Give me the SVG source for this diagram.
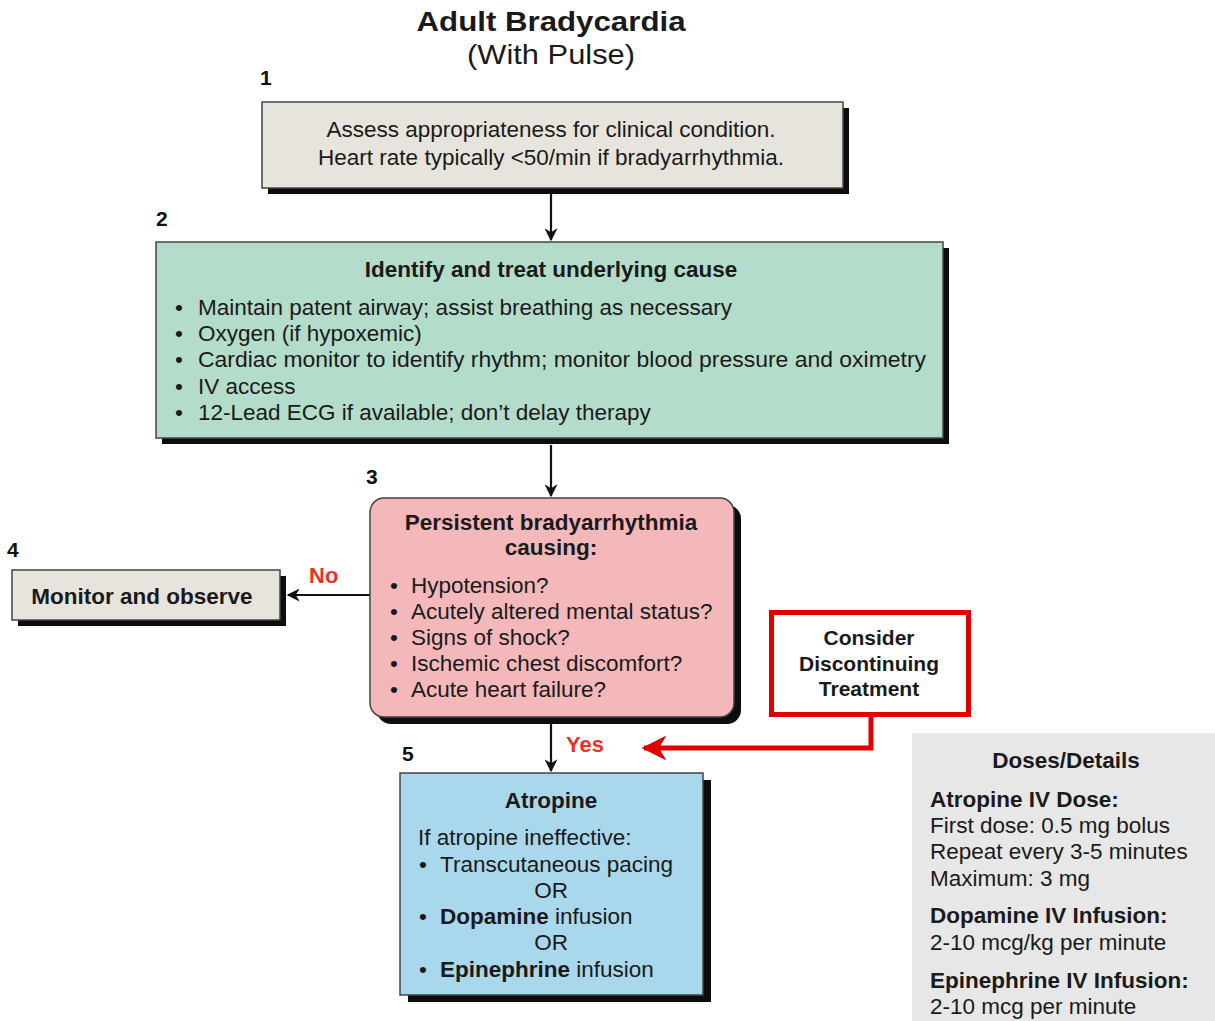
<svg xmlns="http://www.w3.org/2000/svg" width="1215" height="1021" viewBox="0 0 1215 1021">
<defs>
<style>
text{font-family:"Liberation Sans",Arial,sans-serif;fill:#1a1a1a;}
.t{font-size:22.5px;}
.b{font-weight:bold;}
.c{text-anchor:middle;}
.num{font-size:21px;font-weight:bold;fill:#111;}
.sh{fill:#0d0d0d;}
.box{stroke:#444;stroke-width:1.5;}
.conn{stroke:#111;stroke-width:2.2;fill:none;}
.red{fill:#e8322c;font-weight:bold;font-size:22px;}
.rl{stroke:#e00000;stroke-width:5;fill:none;}
</style>
<marker id="ah" viewBox="0 0 10 10" refX="9" refY="5" markerWidth="13" markerHeight="13" orient="auto" markerUnits="userSpaceOnUse">
<path d="M0,0 L10,5 L0,10 L3,5 z" fill="#111"/>
</marker>
<marker id="ahr" viewBox="0 0 10 10" refX="9" refY="5" markerWidth="5" markerHeight="5" orient="auto">
<path d="M0,0 L10,5 L0,10 L3,5 z" fill="#e00000"/>
</marker>
</defs>
<rect width="1215" height="1021" fill="#ffffff"/>
<g id="title">
<text x="551" y="31" class="b c" style="font-size:28px" textLength="269" lengthAdjust="spacingAndGlyphs">Adult Bradycardia</text>
<text x="551" y="64" class="c" style="font-size:28px" textLength="168" lengthAdjust="spacingAndGlyphs">(With Pulse)</text>
</g>
<g id="connectors">
<line x1="551" y1="194" x2="551" y2="240" class="conn" marker-end="url(#ah)"/>
<line x1="551" y1="445" x2="551" y2="496" class="conn" marker-end="url(#ah)"/>
<line x1="378" y1="595" x2="288" y2="595" class="conn" marker-end="url(#ah)"/>
<line x1="551" y1="724" x2="551" y2="771" class="conn" marker-end="url(#ah)"/>
<text x="309" y="583" class="red">No</text>
<text x="566" y="752" class="red">Yes</text>
<polyline points="871,716 871,748 644,748" class="rl" marker-end="url(#ahr)"/>
</g>
<g id="node1">
<text x="260" y="85" class="num">1</text>
<rect x="268" y="108" width="581" height="86" class="sh"/>
<rect x="262" y="102" width="581" height="86" fill="#e6e4dc" class="box"/>
<text x="551" y="137" class="t c">Assess appropriateness for clinical condition.</text>
<text x="551" y="165" class="t c">Heart rate typically &lt;50/min if bradyarrhythmia.</text>
</g>
<g id="node2">
<text x="156" y="226" class="num">2</text>
<rect x="162" y="248" width="787" height="196" class="sh"/>
<rect x="156" y="242" width="787" height="196" fill="#b4dcca" class="box"/>
<text x="551" y="277" class="t b c">Identify and treat underlying cause</text>
<g class="t">
<text x="175" y="315">•</text><text x="198" y="315">Maintain patent airway; assist breathing as necessary</text>
<text x="175" y="341">•</text><text x="198" y="341">Oxygen (if hypoxemic)</text>
<text x="175" y="367">•</text><text x="198" y="367" textLength="728" lengthAdjust="spacingAndGlyphs">Cardiac monitor to identify rhythm; monitor blood pressure and oximetry</text>
<text x="175" y="394">•</text><text x="198" y="394">IV access</text>
<text x="175" y="420">•</text><text x="198" y="420">12-Lead ECG if available; don’t delay therapy</text>
</g>
</g>
<g id="node3">
<text x="366" y="484" class="num">3</text>
<rect x="377" y="505" width="364" height="219" rx="14" class="sh"/>
<rect x="370" y="498" width="364" height="219" rx="14" fill="#f4b8ba" class="box"/>
<text x="551" y="530" class="t b c">Persistent bradyarrhythmia</text>
<text x="551" y="555" class="t b c">causing:</text>
<g class="t">
<text x="390" y="593">•</text><text x="411" y="593">Hypotension?</text>
<text x="390" y="619">•</text><text x="411" y="619">Acutely altered mental status?</text>
<text x="390" y="645">•</text><text x="411" y="645">Signs of shock?</text>
<text x="390" y="671">•</text><text x="411" y="671">Ischemic chest discomfort?</text>
<text x="390" y="697">•</text><text x="411" y="697">Acute heart failure?</text>
</g>
</g>
<g id="node4">
<text x="7" y="557" class="num">4</text>
<rect x="18" y="576" width="268" height="50" class="sh"/>
<rect x="12" y="570" width="268" height="50" fill="#e6e4dc" class="box"/>
<text x="142" y="604" class="t b c">Monitor and observe</text>
</g>
<g id="node5">
<text x="402" y="761" class="num">5</text>
<rect x="408" y="780" width="303" height="222" class="sh"/>
<rect x="400" y="773" width="303" height="222" fill="#a9d7ec" class="box"/>
<text x="551" y="808" class="t b c">Atropine</text>
<g class="t">
<text x="418" y="845">If atropine ineffective:</text>
<text x="419" y="872">•</text><text x="440" y="872">Transcutaneous pacing</text>
<text x="551" y="898" class="c">OR</text>
<text x="419" y="924">•</text><text x="440" y="924"><tspan class="b">Dopamine</tspan> infusion</text>
<text x="551" y="950" class="c">OR</text>
<text x="419" y="977">•</text><text x="440" y="977"><tspan class="b">Epinephrine</tspan> infusion</text>
</g>
</g>
<g id="node6">
<rect x="771.5" y="612.5" width="197" height="102" fill="#ffffff" class="rl"/>
<text x="869" y="645" class="b c" style="font-size:21px">Consider</text>
<text x="869" y="671" class="b c" style="font-size:21px">Discontinuing</text>
<text x="869" y="696" class="b c" style="font-size:21px">Treatment</text>
</g>
<g id="node7">
<rect x="912" y="733" width="303" height="288" fill="#e7e7e7"/>
<g class="t">
<text x="1066" y="768" class="b c">Doses/Details</text>
<text x="930" y="807" class="b">Atropine IV Dose:</text>
<text x="930" y="833">First dose: 0.5 mg bolus</text>
<text x="930" y="859">Repeat every 3-5 minutes</text>
<text x="930" y="886">Maximum: 3 mg</text>
<text x="930" y="923" class="b">Dopamine IV Infusion:</text>
<text x="930" y="950">2-10 mcg/kg per minute</text>
<text x="930" y="988" class="b">Epinephrine IV Infusion:</text>
<text x="930" y="1014">2-10 mcg per minute</text>
</g>
</g>
</svg>
